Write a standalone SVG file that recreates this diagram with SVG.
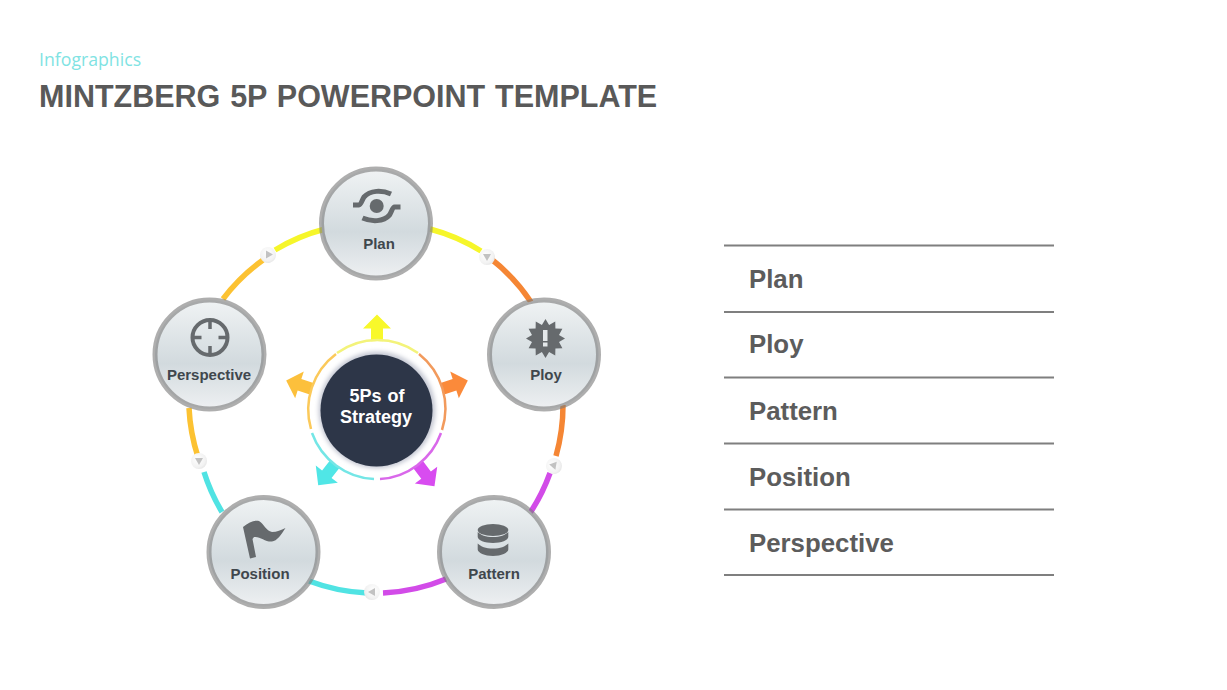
<svg xmlns="http://www.w3.org/2000/svg" width="1227" height="690" viewBox="0 0 1227 690">
<style>
text{font-family:"Liberation Sans",Arial,sans-serif;font-weight:700}
.lab{font-size:15px;fill:#40474d;text-anchor:middle}
.item{font-size:25.800px;fill:#5c5c5c}
.rule{stroke:#7f7f7f;stroke-width:2}
.conn{fill:none;stroke-width:5.500}
.thin{fill:none;stroke-width:2.500}
.face{fill:url(#face);stroke:#7d7d7d;stroke-opacity:.62;stroke-width:5}
.ic{fill:#666a6d}
.ics{fill:none;stroke:#666a6d;stroke-linecap:butt}
.y{stroke:#f6f62a}.o{stroke:#f58634}.m{stroke:#d24be8}.c{stroke:#50e3e3}.a{stroke:#fcc232}
.yt{stroke:#f3f37a}.ot{stroke:#f29a5c}.mt{stroke:#d968ea}.ct{stroke:#74e6e6}.at{stroke:#fbc95a}
</style>
<defs>
<linearGradient id="face" x1="0" y1="0" x2="0" y2="1"><stop offset="0" stop-color="#f0f3f4"/><stop offset=".58" stop-color="#d2dade"/><stop offset="1" stop-color="#eef0f2"/></linearGradient>
<radialGradient id="dot" cx=".4" cy=".4" r=".7"><stop offset="0" stop-color="#ffffff"/><stop offset=".7" stop-color="#f2f2f2"/><stop offset="1" stop-color="#e2e2e2"/></radialGradient>
<filter id="blur" x="-20%" y="-20%" width="140%" height="140%"><feGaussianBlur stdDeviation="2"/></filter>
<path id="arr" d="M377 314.500 L391 328.500 L383 328.500 L383 346 L371 346 L371 328.500 L363 328.500 Z"/>
<g id="bead"><circle r="8" fill="url(#dot)"/><path d="M-4 -3 L4 -3 L0 4 Z" fill="#c2c2c2"/></g>
</defs>
<rect width="1227" height="690" fill="#fff"/>
<text x="39" y="66" style="font-family:'Open Sans',sans-serif;font-weight:400;font-size:17.700px" fill="#7fe3e3">Infographics</text>
<text x="39" y="107" font-size="30.500" word-spacing="1.400" fill="#595959">MINTZBERG 5P POWERPOINT TEMPLATE</text>

<g id="connectors">
<path class="conn y" d="M430 229 A187 187 0 0 1 481 251"/>
<path class="conn o" d="M490 258 A187 187 0 0 1 531 302"/>
<path class="conn o" d="M563 405 A187 187 0 0 1 556 456"/>
<path class="conn m" d="M550 473 A187 187 0 0 1 530 513"/>
<path class="conn m" d="M446 579 A187 187 0 0 1 383 593"/>
<path class="conn c" d="M367 593 A187 187 0 0 1 309 581"/>
<path class="conn c" d="M222 512 A187 187 0 0 1 204 472"/>
<path class="conn a" d="M198 457 A187 187 0 0 1 189 408"/>
<path class="conn a" d="M223 299 A187 187 0 0 1 263 260"/>
<path class="conn y" d="M275 250 A187 187 0 0 1 325 229"/>
<use href="#bead" transform="translate(487 257) rotate(0)"/>
<use href="#bead" transform="translate(554 466) rotate(-20)"/>
<use href="#bead" transform="translate(372 592) rotate(90)"/>
<use href="#bead" transform="translate(199 461) rotate(0)"/>
<use href="#bead" transform="translate(268 255) rotate(30)"/>
</g>

<g id="center">
<use href="#arr" fill="#f8f82a"/>
<use href="#arr" fill="#fb8a3a" transform="rotate(72 377 410)"/>
<use href="#arr" fill="#d84cf0" transform="rotate(143 377 410)"/>
<use href="#arr" fill="#50e6e6" transform="rotate(-142 377 410)"/>
<use href="#arr" fill="#fcc03c" transform="rotate(-72 377 410)"/>
<circle cx="377" cy="410" r="69" fill="#fff"/>
<path class="thin yt" d="M337 353 A69.500 69.500 0 0 1 418 353"/>
<path class="thin ot" d="M419 354 A69.500 69.500 0 0 1 442 430"/>
<path class="thin mt" d="M441 433 A69.500 69.500 0 0 1 380 479"/>
<path class="thin ct" d="M374 479 A69.500 69.500 0 0 1 312 433"/>
<path class="thin at" d="M311 429 A69.500 69.500 0 0 1 336 354"/>
<circle cx="377" cy="410" r="58.500" fill="#c6c9d4" filter="url(#blur)"/>
<circle cx="376.500" cy="410.500" r="56" fill="#2d3648"/>
<text x="377" y="402" font-size="18" word-spacing="1" fill="#fff" text-anchor="middle">5Ps of</text>
<text x="376" y="423" font-size="18" fill="#fff" text-anchor="middle">Strategy</text>
</g>

<g id="node-plan">
<circle class="face" cx="376" cy="223.500" r="54.500"/>
<circle class="ic" cx="376.700" cy="206" r="7"/>
<path class="ics" stroke-width="5" d="M353 205 H359 C361 205 362 200 364 197 C370 190 382 190 391 194"/>
<path class="ics" stroke-width="5" d="M400.500 207 H394.500 C392.500 207 391.500 212 389.500 215 C383.500 222 371.500 222 362.500 218"/>
<text class="lab" x="379" y="249">Plan</text>
</g>

<g id="node-ploy">
<circle class="face" cx="544" cy="354.500" r="54.500"/>
<polygon class="ic" transform="translate(545.500 338.500)" points="19.500,0 13.500,3.600 16.900,9.750 9.900,9.900 9.750,16.900 3.600,13.500 0,19.500 -3.600,13.500 -9.750,16.900 -9.900,9.900 -16.900,9.750 -13.500,3.600 -19.500,0 -13.500,-3.600 -16.900,-9.750 -9.900,-9.900 -9.750,-16.900 -3.600,-13.500 0,-19.500 3.600,-13.500 9.750,-16.900 9.900,-9.900 16.900,-9.750 13.500,-3.600"/>
<rect x="543" y="330" width="4.500" height="11" fill="#e4e8ea"/>
<rect x="543" y="342.500" width="4.500" height="4" fill="#e4e8ea"/>
<text class="lab" x="546" y="380">Ploy</text>
</g>

<g id="node-pattern">
<circle class="face" cx="494" cy="552" r="54.500"/>
<ellipse class="ic" cx="493" cy="530" rx="15.300" ry="6"/>
<path class="ic" d="M477.700 532 v5 c0 3 7 6 15.300 6 s15.300 -3 15.300 -6 v-5 c-3 3 -8 5 -15.300 5 s-12.300 -2 -15.300 -5z"/>
<path class="ic" d="M477.700 543.500 v6 c0 3 7 6.500 15.300 6.500 s15.300 -3.500 15.300 -6.500 v-6 c-3 3 -8 5 -15.300 5 s-12.300 -2 -15.300 -5z"/>
<text class="lab" x="494" y="579">Pattern</text>
</g>

<g id="node-position">
<circle class="face" cx="263.500" cy="552" r="54.500"/>
<path class="ic" d="M243 527 C249 522 255 520 259 521 C264 524 266 531 272 532 C277 532 281 530 285.500 528 C281 535 277 541 272 541.500 C265 542 260 536 254 537 L252.500 539 L256 557 L250 558.500 Z"/>
<text class="lab" x="260" y="579">Position</text>
</g>

<g id="node-perspective">
<circle class="face" cx="209.500" cy="354.500" r="54.500"/>
<circle class="ics" stroke-width="4" cx="210" cy="337.500" r="17.500"/>
<path class="ics" stroke-width="3.500" d="M210 320 V329 M210 346 V355 M192.500 337.500 H201.500 M218.500 337.500 H227.500"/>
<text class="lab" x="209" y="380">Perspective</text>
</g>

<g id="list">
<line class="rule" x1="724" y1="245.500" x2="1054" y2="245.500"/>
<line class="rule" x1="724" y1="312" x2="1054" y2="312"/>
<line class="rule" x1="724" y1="377.500" x2="1054" y2="377.500"/>
<line class="rule" x1="724" y1="443.500" x2="1054" y2="443.500"/>
<line class="rule" x1="724" y1="509.500" x2="1054" y2="509.500"/>
<line class="rule" x1="724" y1="575" x2="1054" y2="575"/>
<text class="item" x="749" y="288">Plan</text>
<text class="item" x="749" y="353">Ploy</text>
<text class="item" x="749" y="420">Pattern</text>
<text class="item" x="749" y="486">Position</text>
<text class="item" x="749" y="552">Perspective</text>
</g>
</svg>
